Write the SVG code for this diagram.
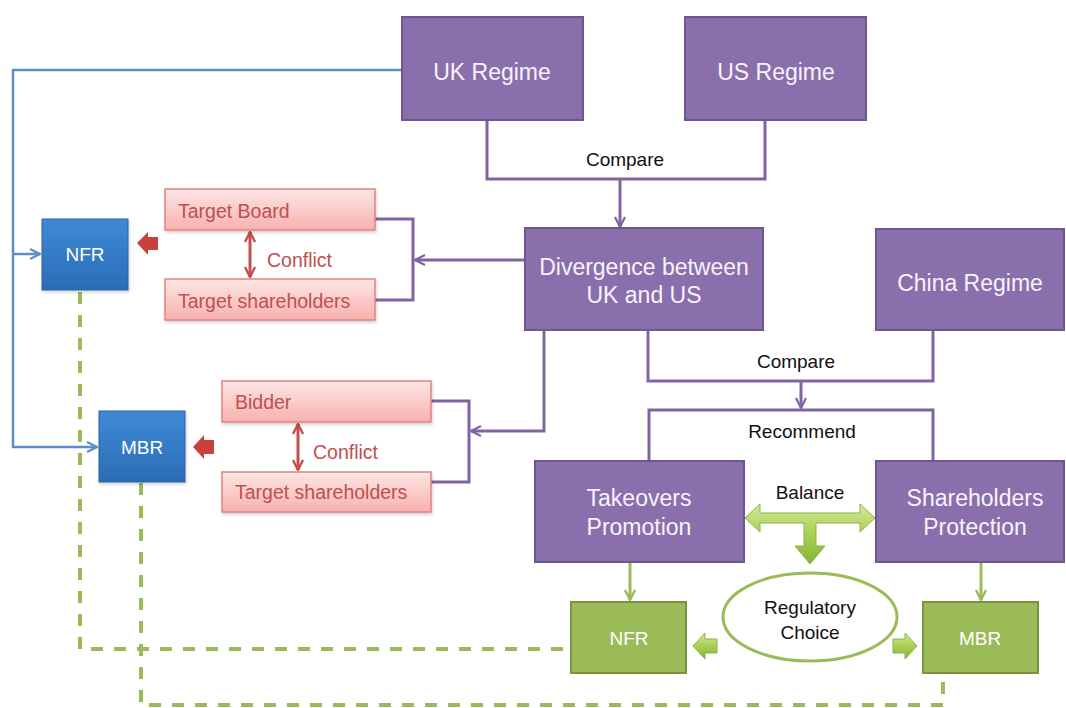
<svg xmlns="http://www.w3.org/2000/svg" width="1066" height="708" viewBox="0 0 1066 708">
  <defs>
    <linearGradient id="gBlue" x1="0" y1="0" x2="0" y2="1">
      <stop offset="0" stop-color="#3f8ad6"/>
      <stop offset="1" stop-color="#2b6cb6"/>
    </linearGradient>
    <linearGradient id="gPink" x1="0" y1="0" x2="0" y2="1">
      <stop offset="0" stop-color="#fde6e5"/>
      <stop offset="1" stop-color="#f7b1ae"/>
    </linearGradient>
    <linearGradient id="gLime" x1="0" y1="0" x2="0" y2="1">
      <stop offset="0" stop-color="#d2ea97"/>
      <stop offset="0.5" stop-color="#a9d055"/>
      <stop offset="1" stop-color="#86b138"/>
    </linearGradient>
    <filter id="shadow" x="-10%" y="-10%" width="125%" height="130%">
      <feDropShadow dx="1" dy="2" stdDeviation="1.5" flood-color="#000" flood-opacity="0.18"/>
    </filter>
    <marker id="aPurple" viewBox="0 0 12 12" refX="11" refY="6" markerWidth="12" markerHeight="12" markerUnits="userSpaceOnUse" orient="auto">
      <path d="M1,1 L11,6 L1,11" fill="none" stroke="#8064a2" stroke-width="2.2"/>
    </marker>
    <marker id="aBlue" viewBox="0 0 12 12" refX="11" refY="6" markerWidth="12" markerHeight="12" markerUnits="userSpaceOnUse" orient="auto">
      <path d="M1,1 L11,6 L1,11" fill="none" stroke="#5f8dc6" stroke-width="2.2"/>
    </marker>
    <marker id="aGreen" viewBox="0 0 12 12" refX="11" refY="6" markerWidth="12" markerHeight="12" markerUnits="userSpaceOnUse" orient="auto">
      <path d="M1,1 L11,6 L1,11" fill="none" stroke="#9bbb59" stroke-width="2.4"/>
    </marker>
    <marker id="aRed" viewBox="0 0 12 12" refX="11" refY="6" markerWidth="12" markerHeight="12" markerUnits="userSpaceOnUse" orient="auto-start-reverse">
      <path d="M1,1 L11,6 L1,11" fill="none" stroke="#c0504d" stroke-width="2.4"/>
    </marker>
  </defs>
  <style>
    text { font-family: "Liberation Sans", Arial, sans-serif; text-anchor: middle; }
    .regime rect { fill: #8a6fad; stroke: #6f5592; stroke-width: 2; }
    .regime text { fill: #f7f3fb; font-size: 23px; }
    .blue rect { fill: url(#gBlue); stroke: #2a63a6; stroke-width: 1; filter: url(#shadow); }
    .blue text { fill: #ffffff; font-size: 19px; }
    .pink rect { fill: url(#gPink); stroke: #e2837e; stroke-width: 1.5; filter: url(#shadow); }
    .pink text { fill: #c0504d; font-size: 19.5px; text-anchor: start; }
    .green rect { fill: #9bbb59; stroke: #77933c; stroke-width: 2; }
    .green text { fill: #ffffff; font-size: 19px; }
    .label { fill: #111111; font-size: 19px; }
    .red-label { fill: #c0504d; font-size: 19.5px; text-anchor: start; }
    .purple-line { fill: none; stroke: #8064a2; stroke-width: 3; }
    .blue-line { fill: none; stroke: #5f8dc6; stroke-width: 2.5; }
    .green-line { fill: none; stroke: #9bbb59; stroke-width: 3; }
    .dashed { fill: none; stroke: #9bbb59; stroke-width: 4; stroke-dasharray: 12 11; }
    .red-line { fill: none; stroke: #c0504d; stroke-width: 3; }
    .block-red { fill: #c9413a; }
    .block-green { fill: url(#gLime); stroke: #8db346; stroke-width: 1; }
  </style>

  <!-- connectors -->
  <g id="connectors">
    <!-- UK / US compare bracket -->
    <path class="purple-line" d="M487,120 V179 H765 V120"/>
    <path class="purple-line" d="M620,179 V227" marker-end="url(#aPurple)"/>
    <!-- divergence to conflict pairs -->
    <path class="purple-line" d="M375,219 H413 V300 H375"/>
    <path class="purple-line" d="M525,260 H415" marker-end="url(#aPurple)"/>
    <path class="purple-line" d="M431,401 H469 V482 H431"/>
    <path class="purple-line" d="M544,330 V431 H471" marker-end="url(#aPurple)"/>
    <!-- divergence / China compare bracket -->
    <path class="purple-line" d="M648,330 V381 H933 V330"/>
    <path class="purple-line" d="M801,381 V408" marker-end="url(#aPurple)"/>
    <!-- recommend bracket -->
    <path class="purple-line" d="M649,461 V410 H933 V461"/>
    <!-- UK regime to NFR / MBR -->
    <path class="blue-line" d="M402,70 H13 V447 H97" marker-end="url(#aBlue)"/>
    <path class="blue-line" d="M13,254 H40" marker-end="url(#aBlue)"/>
    <!-- conflict arrows -->
    <path class="red-line" d="M250,232 V277" marker-start="url(#aRed)" marker-end="url(#aRed)"/>
    <path class="red-line" d="M298,424 V470" marker-start="url(#aRed)" marker-end="url(#aRed)"/>
    <!-- red block arrows into NFR / MBR -->
    <path class="block-red" d="M137,243 L148,232 L148,237 L158,237 L158,250 L148,250 L148,255 Z"/>
    <path class="block-red" d="M193,447 L204,435 L204,440 L214,440 L214,454 L204,454 L204,459 Z"/>
    <!-- promotion / protection down to green boxes -->
    <path class="green-line" d="M630,562 V600" marker-end="url(#aGreen)"/>
    <path class="green-line" d="M981,562 V600" marker-end="url(#aGreen)"/>
    <!-- balance arrow -->
    <path class="block-green" d="M745,518 L760,504 L760,513 L860,513 L860,504 L875,518 L860,532 L860,523 L816,523 L816,546 L825,546 L810,564 L795,546 L804,546 L804,523 L760,523 L760,532 Z"/>
    <!-- regulatory choice block arrows -->
    <path class="block-green" d="M693,646 L705,633 L705,639 L717,639 L717,653 L705,653 L705,659 Z"/>
    <path class="block-green" d="M917,646 L905,633 L905,639 L893,639 L893,653 L905,653 L905,659 Z"/>
    <!-- dashed correspondence lines -->
    <path class="dashed" d="M80,292 V649 H571"/>
    <path class="dashed" d="M141,483 V705 H943 V675"/>
  </g>

  <!-- connector labels -->
  <g id="labels">
    <text class="label" x="625" y="166">Compare</text>
    <text class="label" x="796" y="368">Compare</text>
    <text class="label" x="802" y="438">Recommend</text>
    <text class="label" x="810" y="499">Balance</text>
    <text class="red-label" x="267" y="267">Conflict</text>
    <text class="red-label" x="313" y="459">Conflict</text>
  </g>

  <g id="uk-regime" class="regime">
    <rect x="402" y="17" width="181" height="103"/>
    <text x="492" y="80">UK Regime</text>
  </g>
  <g id="us-regime" class="regime">
    <rect x="685" y="17" width="181" height="103"/>
    <text x="776" y="80">US Regime</text>
  </g>
  <g id="divergence" class="regime">
    <rect x="525" y="228" width="238" height="102"/>
    <text x="644" y="275">Divergence between</text>
    <text x="644" y="303">UK and US</text>
  </g>
  <g id="china-regime" class="regime">
    <rect x="876" y="229" width="188" height="101"/>
    <text x="970" y="291">China Regime</text>
  </g>
  <g id="takeovers-promotion" class="regime">
    <rect x="535" y="461" width="209" height="101"/>
    <text x="639" y="506">Takeovers</text>
    <text x="639" y="535">Promotion</text>
  </g>
  <g id="shareholders-protection" class="regime">
    <rect x="876" y="461" width="188" height="101"/>
    <text x="975" y="506">Shareholders</text>
    <text x="975" y="535">Protection</text>
  </g>

  <g id="nfr-blue" class="blue">
    <rect x="42" y="219" width="86" height="71"/>
    <text x="85" y="261">NFR</text>
  </g>
  <g id="mbr-blue" class="blue">
    <rect x="99" y="411" width="86" height="71"/>
    <text x="142" y="454">MBR</text>
  </g>

  <g id="target-board" class="pink">
    <rect x="165" y="189" width="210" height="41"/>
    <text x="178" y="218">Target Board</text>
  </g>
  <g id="target-shareholders-1" class="pink">
    <rect x="165" y="279" width="210" height="41"/>
    <text x="178" y="308">Target shareholders</text>
  </g>
  <g id="bidder" class="pink">
    <rect x="222" y="381" width="209" height="41"/>
    <text x="235" y="409">Bidder</text>
  </g>
  <g id="target-shareholders-2" class="pink">
    <rect x="222" y="472" width="209" height="40"/>
    <text x="235" y="499">Target shareholders</text>
  </g>

  <g id="regulatory-choice">
    <ellipse cx="810" cy="617" rx="87" ry="44" fill="#ffffff" stroke="#9bbb59" stroke-width="3"/>
    <text class="label" x="810" y="614">Regulatory</text>
    <text class="label" x="810" y="639">Choice</text>
  </g>

  <g id="nfr-green" class="green">
    <rect x="571" y="602" width="115" height="71"/>
    <text x="629" y="645">NFR</text>
  </g>
  <g id="mbr-green" class="green">
    <rect x="923" y="602" width="115" height="71"/>
    <text x="980" y="645">MBR</text>
  </g>
</svg>
